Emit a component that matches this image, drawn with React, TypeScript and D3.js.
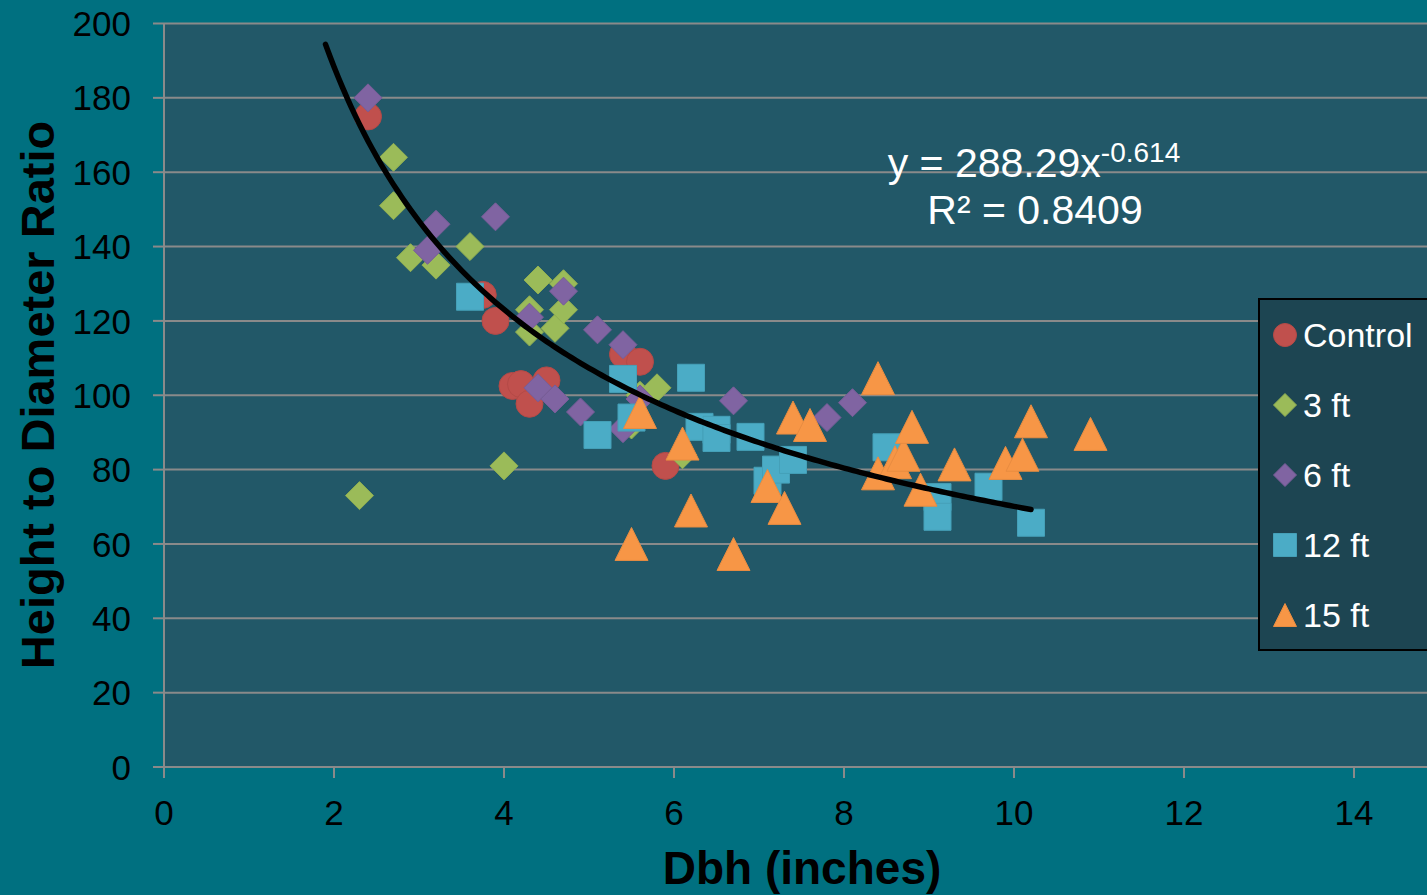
import React, { useEffect, useRef } from "react";
import * as d3 from "d3";

// values, [dbh, ratio]
const control = [
  [2.4, 175], [3.75, 127], [3.9, 120], [4.1, 102.5], [4.2, 103], [4.3, 97.7],
  [4.5, 104], [5.4, 111], [5.6, 109], [5.9, 81],
];
const ft3 = [
  [2.3, 73], [2.7, 164], [2.7, 151], [2.9, 137], [3.2, 135], [3.6, 140], [4.0, 81],
  [4.3, 123], [4.3, 117], [4.4, 131], [4.6, 118], [4.7, 130], [4.7, 123],
  [5.5, 92], [5.6, 100], [5.8, 102], [6.1, 84],
];
const ft6 = [
  [2.4, 180], [3.1, 139], [3.2, 146], [3.9, 148], [4.3, 121], [4.4, 102],
  [4.6, 99], [4.7, 128], [4.9, 95.5], [5.1, 117.6], [5.4, 113.6], [5.4, 91],
  [5.6, 99], [6.7, 98.5], [7.8, 94], [8.1, 98],
];
const ft12 = [
  [3.6, 126.5], [5.1, 89.3], [5.4, 104.4], [5.5, 94], [6.2, 104.7], [6.3, 91.5],
  [6.5, 90.7], [6.5, 88.5], [6.9, 88.8], [7.1, 77], [7.2, 80], [7.4, 82.6],
  [8.5, 86], [9.1, 72.6], [9.1, 67.3], [9.7, 75.4], [10.2, 65.7],
];
const ft15 = [
  [5.5, 60], [5.6, 95.5], [6.1, 87], [6.2, 69], [6.7, 57.3], [7.1, 75.6],
  [7.3, 69.7], [7.4, 94], [7.6, 92], [8.4, 104.6], [8.4, 79], [8.6, 82],
  [8.7, 84], [8.8, 91.5], [8.9, 74.6], [9.3, 81.4], [9.9, 81.8], [10.1, 84],
  [10.2, 93], [10.9, 89.6],
];

const seriesNames = ["Control", "3 ft", "6 ft", "12 ft", "15 ft"];
const xTicks = [0, 2, 4, 6, 8, 10, 12, 14];
const yTicks = [0, 20, 40, 60, 80, 100, 120, 140, 160, 180, 200];

// power trendline y = a * x^b
const trendCoef = [288.29, -0.614];
const trendRange = [1.9, 10.2];

const FONT = "'Liberation Sans', Arial, sans-serif";

// marker path around a centre point
const markerPath = (shape: string, cx: number, cy: number, s: number) => {
  const h = s / 2;
  if (shape === "circle")
    return `M${cx - h},${cy}a${h},${h} 0 1,0 ${s},0a${h},${h} 0 1,0 ${-s},0Z`;
  if (shape === "diamond")
    return `M${cx},${cy - h}L${cx + h},${cy}L${cx},${cy + h}L${cx - h},${cy}Z`;
  if (shape === "square")
    return `M${cx - h},${cy - h}h${s}v${s}h${-s}Z`;
  return `M${cx},${cy - h}L${cx + h},${cy + h}L${cx - h},${cy + h}Z`;
};

const App = () => {
  const svgRef = useRef(null);

  useEffect(() => {
    const svg = d3.select(svgRef.current);
    svg.selectAll("*").remove();

    const width = 1427;
    const height = 895;
    const plot = { left: 164, top: 23.5, bottom: 767 };

    const x = d3.scaleLinear().domain([0, 14]).range([plot.left, 1354]);
    const y = d3.scaleLinear().domain([0, 200]).range([plot.bottom, plot.top]);

    svg.append("rect").attr("width", width).attr("height", height).attr("fill", "#007080");

    // plot area
    svg
      .append("rect")
      .attr("x", plot.left)
      .attr("y", plot.top)
      .attr("width", width - plot.left + 10)
      .attr("height", plot.bottom - plot.top)
      .attr("fill", "#225868");

    // gridlines
    svg
      .selectAll(".grid")
      .data(yTicks)
      .enter()
      .append("line")
      .attr("x1", plot.left)
      .attr("x2", width)
      .attr("y1", (d) => y(d))
      .attr("y2", (d) => y(d))
      .attr("stroke", "#8a8a8a")
      .attr("stroke-width", 2);

    // axes lines and ticks
    svg
      .append("line")
      .attr("x1", plot.left)
      .attr("x2", plot.left)
      .attr("y1", plot.top)
      .attr("y2", plot.bottom)
      .attr("stroke", "#8a8a8a")
      .attr("stroke-width", 2);

    svg
      .selectAll(".ytick")
      .data(yTicks)
      .enter()
      .append("line")
      .attr("x1", plot.left - 11)
      .attr("x2", plot.left)
      .attr("y1", (d) => y(d))
      .attr("y2", (d) => y(d))
      .attr("stroke", "#8a8a8a")
      .attr("stroke-width", 2);

    svg
      .selectAll(".xtick")
      .data(xTicks)
      .enter()
      .append("line")
      .attr("x1", (d) => x(d))
      .attr("x2", (d) => x(d))
      .attr("y1", plot.bottom)
      .attr("y2", plot.bottom + 11)
      .attr("stroke", "#8a8a8a")
      .attr("stroke-width", 2);

    svg
      .selectAll(".ylabel")
      .data(yTicks)
      .enter()
      .append("text")
      .attr("x", 131)
      .attr("y", (d) => y(d))
      .attr("dy", "0.36em")
      .attr("text-anchor", "end")
      .attr("font-family", FONT)
      .attr("font-size", 35)
      .attr("fill", "#000")
      .text((d) => d);

    svg
      .selectAll(".xlabel")
      .data(xTicks)
      .enter()
      .append("text")
      .attr("x", (d) => x(d))
      .attr("y", 825)
      .attr("text-anchor", "middle")
      .attr("font-family", FONT)
      .attr("font-size", 35)
      .attr("fill", "#000")
      .text((d) => d);

    // axis titles
    svg
      .append("text")
      .attr("x", 802)
      .attr("y", 884)
      .attr("text-anchor", "middle")
      .attr("font-family", FONT)
      .attr("font-weight", "bold")
      .attr("font-size", 46)
      .attr("fill", "#000")
      .text("Dbh (inches)");

    svg
      .append("text")
      .attr("transform", "translate(54,395) rotate(-90)")
      .attr("text-anchor", "middle")
      .attr("font-family", FONT)
      .attr("font-weight", "bold")
      .attr("font-size", 47)
      .attr("fill", "#000")
      .text("Height to Diameter Ratio");

    // points
    const series = [
      { data: control, shape: "circle", size: 27, fill: "#C0504D", stroke: "#b44a47" },
      { data: ft3, shape: "diamond", size: 28, fill: "#9BBB59", stroke: "#8fae52" },
      { data: ft6, shape: "diamond", size: 28, fill: "#8064A2", stroke: "#775d97" },
      { data: ft12, shape: "square", size: 27, fill: "#4BACC6", stroke: "#45a0b8" },
      { data: ft15, shape: "triangle", size: 33, fill: "#F79646", stroke: "#e88c41" },
    ];

    series.forEach((s) => {
      svg
        .append("g")
        .selectAll("path")
        .data(s.data)
        .enter()
        .append("path")
        .attr("d", (d) => markerPath(s.shape, x(d[0]), y(d[1]), s.size))
        .attr("fill", s.fill)
        .attr("stroke", s.stroke)
        .attr("stroke-width", 1);
    });

    // trendline
    const trendX = d3.range(trendRange[0], trendRange[1] + 0.001, 0.05);
    svg
      .append("path")
      .datum(trendX)
      .attr("fill", "none")
      .attr("stroke", "#000")
      .attr("stroke-width", 5.5)
      .attr("stroke-linecap", "round")
      .attr(
        "d",
        d3
          .line()
          .x((d) => x(d))
          .y((d) => y(trendCoef[0] * Math.pow(d, trendCoef[1])))
      );

    // equation
    const eq = svg
      .append("text")
      .attr("x", 1034)
      .attr("y", 177)
      .attr("text-anchor", "middle")
      .attr("font-family", FONT)
      .attr("font-size", 41)
      .attr("fill", "#fff");
    eq.append("tspan").text(`y = ${trendCoef[0]}x`);
    eq.append("tspan").attr("dy", -15).attr("font-size", 28).text(`${trendCoef[1]}`);

    svg
      .append("text")
      .attr("x", 1035)
      .attr("y", 224)
      .attr("text-anchor", "middle")
      .attr("font-family", FONT)
      .attr("font-size", 41)
      .attr("fill", "#fff")
      .text("R² = 0.8409");

    // legend
    const legend = svg.append("g");
    legend
      .append("rect")
      .attr("x", 1259)
      .attr("y", 299)
      .attr("width", 200)
      .attr("height", 351)
      .attr("fill", "#1d4552")
      .attr("stroke", "#000")
      .attr("stroke-width", 2);

    series.forEach((s, i) => {
      const cy = 335 + i * 70;
      legend
        .append("path")
        .attr("d", markerPath(s.shape, 1285, cy, 23))
        .attr("fill", s.fill)
        .attr("stroke", s.stroke);
      legend
        .append("text")
        .attr("x", 1303)
        .attr("y", cy)
        .attr("dy", "0.36em")
        .attr("font-family", FONT)
        .attr("font-size", 34)
        .attr("fill", "#fff")
        .text(seriesNames[i]);
    });
  }, []);

  return (
    <svg
      ref={svgRef}
      width={1427}
      height={895}
      style={{ position: "absolute", left: 0, top: 0 }}
    ></svg>
  );
};

export default App;
